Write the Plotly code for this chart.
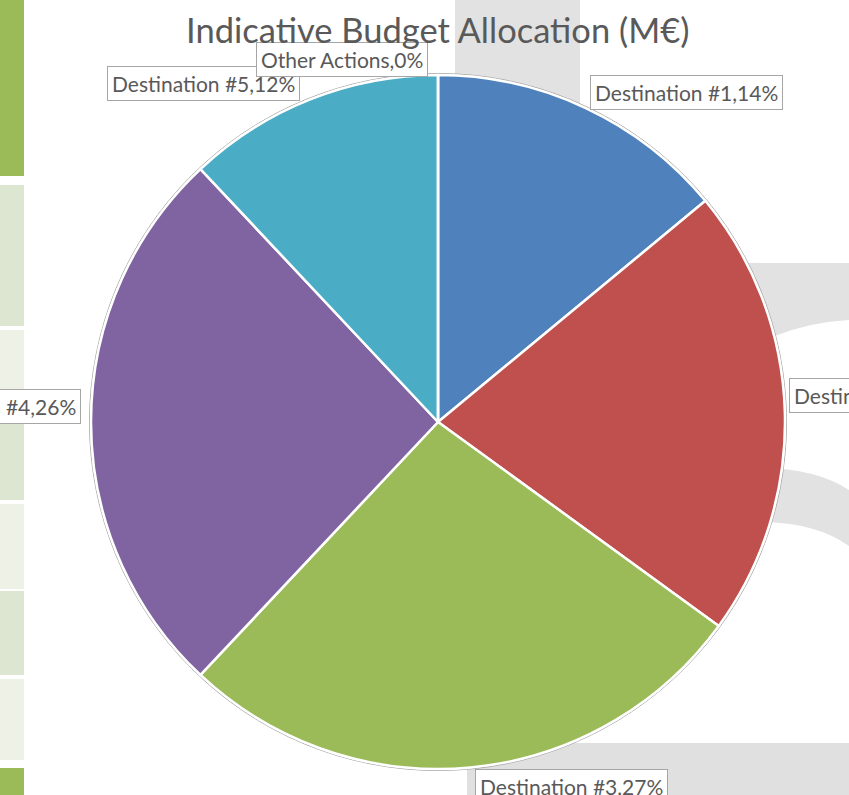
import math
import plotly.graph_objects as go

# ---------------- data ----------------
categories = ["Destination #1", "Destination #2", "Destination #3",
              "Destination #4", "Destination #5", "Other Actions"]
shares = [14, 21, 27, 26, 12, 0]          # % of indicative budget
colors = ["#4F81BD", "#C0504D", "#9BBB59", "#8064A2", "#4BACC6", "#F79646"]
title_text = "Indicative Budget Allocation (M€)"

# ---------------- geometry (pixels) ----------------
W, H = 849, 795
cx, cy, R = 438, 422, 347


def px(x):
    return x / W


def py(y):
    return 1 - y / H


fig = go.Figure()
fig.add_trace(go.Pie(
    labels=categories, values=shares, sort=False, direction="clockwise",
    rotation=0, textinfo="none", hoverinfo="label+percent",
    marker=dict(colors=colors, line=dict(color="white", width=2.5)),
    domain=dict(x=[px(cx - R), px(cx + R)], y=[py(cy + R), py(cy - R)]),
    showlegend=False,
))

# ---------------- background decoration (screenshot context) ----------------
shapes = []
cells = [(0, 176, "#9BBB59"), (185, 326, "#DCE6D0"), (330, 404, "#EDF1E6"),
         (406, 500, "#DCE6D0"), (504, 589, "#EDF1E6"), (591, 675, "#DCE6D0"),
         (679, 760, "#EDF1E6"), (768, 795, "#9BBB59")]
for y0, y1, c in cells:
    shapes.append(dict(type="rect", xref="paper", yref="paper", layer="below",
                       x0=px(0), x1=px(24), y0=py(y1), y1=py(y0),
                       fillcolor=c, line=dict(width=0)))


def path(cmds):
    out = []
    for c in cmds:
        if isinstance(c, str):
            out.append(c)
        else:
            out.append(f"{px(c[0]):.5f},{py(c[1]):.5f}")
    return " ".join(out)


gray = "#e2e2e2"
shapes.append(dict(type="path", xref="paper", yref="paper", layer="below",
                   path=path(["M", (455, 0), "L", (580, 0), "L", (580, 120),
                              "Q", (580, 263), (760, 263), "L", (849, 263),
                              "L", (849, 320), "Q", (810, 322), (775, 336),
                              "L", (700, 420), "L", (455, 200), "Z"]),
                   fillcolor=gray, line=dict(width=0)))
shapes.append(dict(type="path", xref="paper", yref="paper", layer="below",
                   path=path(["M", (760, 468), "Q", (815, 468), (849, 490),
                              "L", (849, 546), "Q", (815, 522), (760, 522), "Z"]),
                   fillcolor=gray, line=dict(width=0)))
shapes.append(dict(type="rect", xref="paper", yref="paper", layer="below",
                   x0=px(467), x1=px(849), y0=py(795), y1=py(743),
                   fillcolor="#e0e0e0", line=dict(width=0)))
# thin grey outline around the pie
shapes.append(dict(type="circle", xref="paper", yref="paper", layer="below",
                   x0=px(cx - R - 1.5), x1=px(cx + R + 1.5),
                   y0=py(cy + R + 1.5), y1=py(cy - R - 1.5),
                   fillcolor="rgba(0,0,0,0)", line=dict(color="#a8a8a8", width=1)))

# ---------------- data labels ----------------
annotations = []
total = sum(shares)
cum = 0
for cat, v in zip(categories, shares):
    mid = (cum + v / 2) / total * 2 * math.pi
    cum += v
    ax = cx + R * math.sin(mid)
    ay = cy - R * math.cos(mid)
    deg = math.degrees(mid) % 360
    right_side = 0 < deg < 180
    top = math.cos(mid) < -0.5
    annotations.append(dict(
        xref="paper", yref="paper", x=px(ax), y=py(ay),
        xanchor="left" if right_side else "right",
        yanchor="top" if top else "bottom",
        xshift=4 if right_side else -10, yshift=-2,
        text=f"{cat},{round(v / total * 100)}%", showarrow=False,
        font=dict(family="Lato", size=21, color="#595959"),
        bgcolor="white", bordercolor="#a6a6a6", borderwidth=1, borderpad=4,
    ))

annotations.append(dict(xref="paper", yref="paper", x=px(437), y=py(30),
                        xanchor="center", yanchor="middle", showarrow=False,
                        text=title_text,
                        font=dict(family="Lato", size=34.5, color="#595959")))

fig.update_layout(
    width=W, height=H, margin=dict(l=0, r=0, t=0, b=0),
    paper_bgcolor="white", plot_bgcolor="white",
    shapes=shapes, annotations=annotations,
)
fig.write_html("out.html", config={"displayModeBar": False},
               post_script="document.body.style.margin='0';"
                           "document.body.style.overflow='hidden';")
